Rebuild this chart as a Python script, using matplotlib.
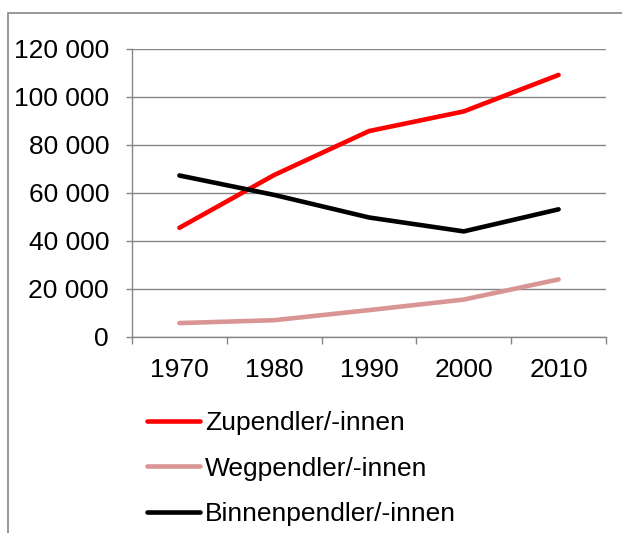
import matplotlib.pyplot as plt
from matplotlib.patches import Rectangle
from matplotlib.ticker import FuncFormatter

years = ['1970', '1980', '1990', '2000', '2010']
zupendler = [45500, 67500, 85800, 94000, 109200]
wegpendler = [5800, 7000, 11200, 15600, 24000]
binnenpendler = [67300, 59200, 49800, 44000, 53200]

plt.rcParams['font.family'] = ['Liberation Sans', 'DejaVu Sans']

fig = plt.figure(figsize=(6.22, 5.33), dpi=100)
ax = fig.add_axes([132/622, 1-337/533, (606-132)/622, (337-49)/533])

grey = '#868686'
x = list(range(len(years)))
ax.plot(x, zupendler, color='#ff0000', lw=3.3, solid_capstyle='round', label='Zupendler/-innen')
ax.plot(x, wegpendler, color='#d99594', lw=3.3, solid_capstyle='round', label='Wegpendler/-innen')
ax.plot(x, binnenpendler, color='black', lw=3.3, solid_capstyle='round', label='Binnenpendler/-innen')

ax.set_xlim(-0.5, len(years) - 0.5)
ax.set_ylim(0, 120000)
ax.set_yticks(range(0, 120001, 20000))
ax.yaxis.set_major_formatter(FuncFormatter(lambda v, p: f'{int(v):,}'.replace(',', ' ')))
ax.set_xticks(x)
ax.set_xticklabels(years)
ax.set_xticks([i - 0.5 for i in range(len(years) + 1)], minor=True)
ax.tick_params(axis='x', which='major', length=0, pad=15, labelsize=19)
ax.tick_params(axis='x', which='minor', length=5, color=grey, width=1)
ax.tick_params(axis='y', length=4.5, color=grey, width=1, pad=12, labelsize=19)

ax.grid(axis='y', color=grey, lw=1)
ax.set_axisbelow(True)
for s in ['top', 'right']:
    ax.spines[s].set_visible(False)
for s in ['left', 'bottom']:
    ax.spines[s].set_color(grey)
    ax.spines[s].set_linewidth(1)

leg = ax.legend(loc='upper left', bbox_to_anchor=(147/622, 1-411/533), bbox_transform=fig.transFigure,
                frameon=False, fontsize=19, handlelength=2.0, handletextpad=0.2,
                labelspacing=0.82, borderpad=0, borderaxespad=0)

fig.patches.append(Rectangle((8/622, -0.1), 1.2, 1-13/533+0.1, transform=fig.transFigure,
                             fill=False, edgecolor=grey, lw=1.2))

fig.savefig('out.png', dpi=100)
